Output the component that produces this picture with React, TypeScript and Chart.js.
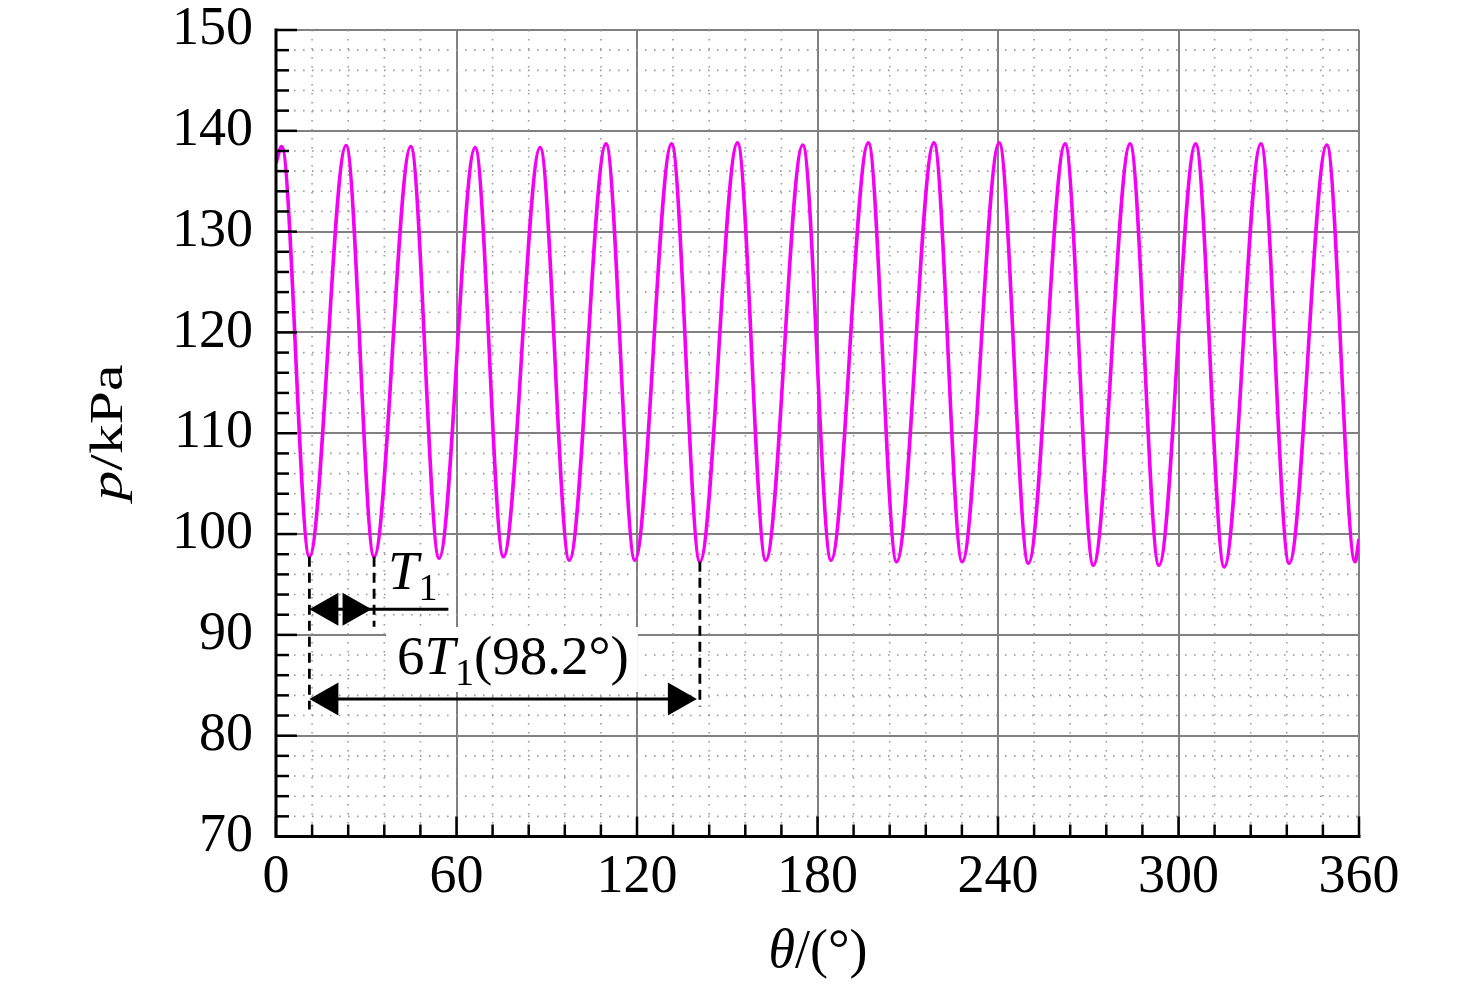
import { useEffect, useRef } from 'react';
import { Chart, registerables } from 'chart.js';

Chart.register(...registerables);

// crests and troughs (θ in deg, p in kPa), plus both ends
const theta = [
  0, 1.9, 11.1, 23.3, 32.6, 44.8, 54.2, 66.2, 75.6, 87.8, 97.5, 109.7,
  119.3, 131.5, 140.9, 153.4, 162.8, 175.1, 184.5, 196.9, 206.3, 218.7, 228.1, 240.4,
  250.1, 262.3, 271.7, 283.9, 293.5, 305.7, 315.2, 327.4, 336.8, 349.3, 358.7, 360,
];
const pressure = [
  136.8, 138.45, 97.75, 138.55, 97.75, 138.45, 97.6, 138.35, 97.75, 138.35, 97.4, 138.7,
  97.4, 138.7, 97.25, 138.8, 97.4, 138.6, 97.4, 138.8, 97.25, 138.8, 97.25, 138.8,
  97.1, 138.7, 96.9, 138.7, 96.9, 138.7, 96.75, 138.7, 97.1, 138.6, 97.25, 99.5,
];

const xTicks = [0, 60, 120, 180, 240, 300, 360];
const yTicks = [70, 80, 90, 100, 110, 120, 130, 140, 150];
const xMinorStep = 12;
const yMinorStep = 2;

// period marks: troughs they hang from, where the dashes stop, arrow levels
const markIdx = [2, 4, 14];
const markBottom = [82.6, 90.8, 82.9];
const arrowP = [92.54, 83.64];
const t1LineEnd = 57.3;

const SERIF = '"Liberation Serif", "Times New Roman", serif';

type Run = { text: string; font: string; dy?: number };

function runsWidth(ctx: CanvasRenderingContext2D, runs: Run[]) {
  let w = 0;
  for (const r of runs) {
    ctx.font = r.font;
    w += ctx.measureText(r.text).width;
  }
  return w;
}

function drawRuns(ctx: CanvasRenderingContext2D, runs: Run[], x: number, y: number) {
  let cx = x;
  for (const r of runs) {
    ctx.font = r.font;
    ctx.fillText(r.text, cx, y + (r.dy || 0));
    cx += ctx.measureText(r.text).width;
  }
}

function head(ctx: CanvasRenderingContext2D, tip: number, y: number, dir: number) {
  ctx.beginPath();
  ctx.moveTo(tip, y);
  ctx.lineTo(tip - dir * 29, y - 16.5);
  ctx.lineTo(tip - dir * 29, y + 16.5);
  ctx.closePath();
  ctx.fill();
}

const decor = {
  id: 'decor',
  beforeDatasetsDraw(chart: any) {
    const { ctx, chartArea: a } = chart;
    const x = chart.scales.x;
    const y = chart.scales.y;
    ctx.save();
    // minor dotted grid
    ctx.strokeStyle = '#9b9b9b';
    ctx.lineWidth = 1.6;
    ctx.setLineDash([1.6, 7.4]);
    for (let v = xTicks[0]; v <= xTicks[xTicks.length - 1]; v += xMinorStep) {
      if (xTicks.includes(v)) continue;
      const px = x.getPixelForValue(v);
      ctx.beginPath();
      ctx.moveTo(px, a.top);
      ctx.lineTo(px, a.bottom);
      ctx.stroke();
    }
    for (let v = yTicks[0]; v <= yTicks[yTicks.length - 1]; v += yMinorStep) {
      if (yTicks.includes(v)) continue;
      const py = y.getPixelForValue(v);
      ctx.beginPath();
      ctx.moveTo(a.left, py);
      ctx.lineTo(a.right, py);
      ctx.stroke();
    }
    ctx.setLineDash([]);
    // white behind the labels
    ctx.fillStyle = '#fff';
    const box = (t0: number, t1: number, p0: number, p1: number) => {
      const x0 = x.getPixelForValue(t0);
      const x1 = x.getPixelForValue(t1);
      const y0 = y.getPixelForValue(p0);
      const y1 = y.getPixelForValue(p1);
      ctx.fillRect(x0, y0, x1 - x0, y1 - y0);
    };
    box(36.6, 120.3, 90.78, 84.33);
    box(37.2, 52.5, 98.9, 93.2);
    ctx.restore();
  },
  afterDatasetsDraw(chart: any) {
    const { ctx, chartArea: a } = chart;
    const x = chart.scales.x;
    const y = chart.scales.y;
    ctx.save();
    ctx.strokeStyle = '#000';
    ctx.fillStyle = '#000';

    // axis lines
    ctx.lineWidth = 3;
    ctx.beginPath();
    ctx.moveTo(a.left, a.top - 1.5);
    ctx.lineTo(a.left, a.bottom);
    ctx.lineTo(a.right + 1.5, a.bottom);
    ctx.stroke();

    // inward ticks
    ctx.lineWidth = 2.5;
    for (let v = yTicks[0]; v <= yTicks[yTicks.length - 1]; v += yMinorStep) {
      const py = y.getPixelForValue(v);
      const len = yTicks.includes(v) ? 21 : 13;
      ctx.beginPath();
      ctx.moveTo(a.left, py);
      ctx.lineTo(a.left + len, py);
      ctx.stroke();
    }
    for (let v = xTicks[0]; v <= xTicks[xTicks.length - 1]; v += xMinorStep) {
      const px = x.getPixelForValue(v);
      const len = xTicks.includes(v) ? 20 : 12;
      ctx.beginPath();
      ctx.moveTo(px, a.bottom);
      ctx.lineTo(px, a.bottom - len);
      ctx.stroke();
    }

    // dashed drops from the troughs
    ctx.lineWidth = 2.8;
    ctx.setLineDash([10, 6]);
    markIdx.forEach((idx, i) => {
      const px = x.getPixelForValue(theta[idx]);
      ctx.beginPath();
      ctx.moveTo(px, y.getPixelForValue(pressure[idx]));
      ctx.lineTo(px, y.getPixelForValue(markBottom[i]));
      ctx.stroke();
    });
    ctx.setLineDash([]);

    // T1 arrow
    const xa = x.getPixelForValue(theta[markIdx[0]]);
    const xb = x.getPixelForValue(theta[markIdx[1]]) - 2.5;
    const xc = x.getPixelForValue(theta[markIdx[2]]) - 3;
    const y1 = y.getPixelForValue(arrowP[0]);
    const y2 = y.getPixelForValue(arrowP[1]);
    ctx.lineWidth = 3;
    ctx.beginPath();
    ctx.moveTo(xa + 4, y1);
    ctx.lineTo(x.getPixelForValue(t1LineEnd), y1);
    ctx.stroke();
    head(ctx, xa, y1, -1);
    head(ctx, xb, y1, 1);

    // 6T1 arrow
    ctx.beginPath();
    ctx.moveTo(xa + 4, y2);
    ctx.lineTo(xc - 4, y2);
    ctx.stroke();
    head(ctx, xa, y2, -1);
    head(ctx, xc, y2, 1);

    // labels
    ctx.textBaseline = 'alphabetic';
    ctx.textAlign = 'left';
    drawRuns(ctx, [
      { text: 'T', font: `italic 55px ${SERIF}` },
      { text: '1', font: `38px ${SERIF}`, dy: 11 },
    ], x.getPixelForValue(37.2), y.getPixelForValue(94.52));
    drawRuns(ctx, [
      { text: '6', font: `55px ${SERIF}` },
      { text: 'T', font: `italic 55px ${SERIF}` },
      { text: '1', font: `38px ${SERIF}`, dy: 11 },
      { text: '(98.2°)', font: `55px ${SERIF}` },
    ], x.getPixelForValue(40.2), y.getPixelForValue(86.12));
    ctx.restore();
  },
  afterDraw(chart: any) {
    const { ctx } = chart;
    ctx.save();
    ctx.fillStyle = '#000';
    ctx.textBaseline = 'alphabetic';
    ctx.textAlign = 'left';
    // x title
    const xt: Run[] = [
      { text: 'θ', font: `italic 54px ${SERIF}` },
      { text: '/(°)', font: `54px ${SERIF}` },
    ];
    drawRuns(ctx, xt, 818 - runsWidth(ctx, xt) / 2, 967);
    // y title
    const yt: Run[] = [
      { text: 'p', font: `italic 47px ${SERIF}` },
      { text: '/kPa', font: `47px ${SERIF}` },
    ];
    ctx.translate(122, 432.5);
    ctx.rotate(-Math.PI / 2);
    ctx.scale(1.27, 1);
    drawRuns(ctx, yt, -runsWidth(ctx, yt) / 2, 0);
    ctx.restore();
  },
};

const App = () => {
  const canvasRef = useRef<HTMLCanvasElement>(null);
  const chartRef = useRef<Chart>();

  useEffect(() => {
    if (!canvasRef.current) return;
    if (chartRef.current) chartRef.current.destroy();

    chartRef.current = new Chart(canvasRef.current, {
      type: 'line',
      data: {
        datasets: [{
          data: theta.map((t, i) => ({ x: t, y: pressure[i] })),
          borderColor: '#f500f5',
          borderWidth: 3.6,
          pointRadius: 0,
          cubicInterpolationMode: 'monotone',
          fill: false,
        }],
      },
      options: {
        animation: false,
        responsive: false,
        devicePixelRatio: 1,
        events: [],
        layout: { padding: { left: 0, top: 30, right: 117, bottom: 0 }, autoPadding: false },
        plugins: {
          legend: { display: false },
          tooltip: { enabled: false },
        },
        scales: {
          x: {
            type: 'linear',
            min: 0,
            max: 360,
            afterBuildTicks: (s: any) => { s.ticks = xTicks.map((v) => ({ value: v })); },
            afterFit: (s: any) => {
              s.height = 148.5;
              s.paddingLeft = 0;
              s.paddingRight = 0;
              s.paddingTop = 0;
              s.paddingBottom = 0;
            },
            ticks: {
              color: '#000',
              padding: 9,
              maxRotation: 0,
              font: { family: SERIF, size: 54 },
              callback: (v: any) => String(v),
            },
            grid: { color: '#808080', lineWidth: 2, drawTicks: false },
            border: { display: false },
          },
          y: {
            type: 'linear',
            min: 70,
            max: 150,
            afterBuildTicks: (s: any) => { s.ticks = yTicks.map((v) => ({ value: v })); },
            afterFit: (s: any) => {
              s.width = 276;
              s.paddingLeft = 0;
              s.paddingRight = 0;
              s.paddingTop = 0;
              s.paddingBottom = 0;
            },
            ticks: {
              color: '#000',
              padding: 23,
              font: { family: SERIF, size: 54 },
              callback: (v: any) => String(v),
            },
            grid: { color: '#808080', lineWidth: 2, drawTicks: false },
            border: { display: false },
          },
        },
      },
      plugins: [decor],
    } as any);

    return () => {
      if (chartRef.current) {
        chartRef.current.destroy();
        chartRef.current = undefined;
      }
    };
  }, []);

  return (
    <div style={{ position: 'absolute', left: 0, top: 0, width: 1476, height: 985, background: '#fff' }}>
      <canvas ref={canvasRef} width={1476} height={985} style={{ display: 'block' }} />
    </div>
  );
};

export default App;
